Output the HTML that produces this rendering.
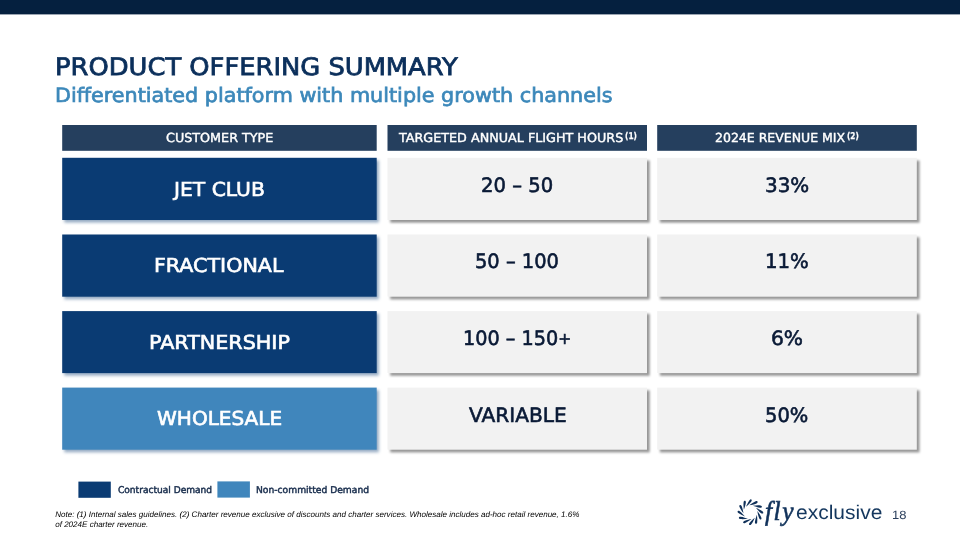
<!DOCTYPE html>
<html lang="en">
<head>
<meta charset="utf-8">
<title>Product Offering Summary</title>
<style>
html,body{margin:0;padding:0;}
body{width:960px;height:540px;position:relative;overflow:hidden;background:#fff;font-family:"DejaVu Sans","Liberation Sans",sans-serif;}
svg.shapes{position:absolute;left:0;top:0;width:960px;height:540px;}
.t{position:absolute;white-space:nowrap;line-height:1;transform-origin:0 0;text-rendering:geometricPrecision;}
.title{color:#0b2f5b;-webkit-text-stroke:0.8px #0b2f5b;}
.sub{color:#3c88ba;-webkit-text-stroke:0.7px #3c88ba;}
.hdr{color:#fff;-webkit-text-stroke:0.4px #fff;}
.sup{color:#fff;font-weight:bold;-webkit-text-stroke:0.25px #fff;}
.lab{color:#fff;-webkit-text-stroke:0.65px #fff;}
.val{color:#0a1a36;-webkit-text-stroke:0.6px #0a1a36;}
.leg{color:#172c4c;-webkit-text-stroke:0.45px #172c4c;}
.note{left:55.2px;top:510.4px;font-family:"Liberation Sans","DejaVu Sans",sans-serif;font-size:8.05px;line-height:10px;font-style:italic;color:#000;}
.fly{font-family:"Liberation Serif","DejaVu Serif",serif;font-style:italic;color:#10315a;-webkit-text-stroke:0.6px #10315a;}
.ex{font-family:"Liberation Sans","DejaVu Sans",sans-serif;color:#14375e;}
.pg{font-family:"Liberation Sans","DejaVu Sans",sans-serif;color:#2b3f5c;}
</style>
</head>
<body>
<svg class="shapes" viewBox="0 0 960 540" width="960" height="540" aria-hidden="true">
<defs>
<filter id="shB" x="-5%" y="-20%" width="110%" height="140%" color-interpolation-filters="sRGB"><feDropShadow dx="2.1" dy="2.5" stdDeviation="1.8" flood-color="#1c4a7e" flood-opacity="0.47"/></filter>
<filter id="shG" x="-5%" y="-20%" width="110%" height="140%" color-interpolation-filters="sRGB"><feDropShadow dx="2.7" dy="2.7" stdDeviation="1.15" flood-color="#000" flood-opacity="0.41"/></filter>
</defs>
<rect x="0" y="0" width="960" height="14.4" fill="#05203f"/>
<rect x="62.2" y="125.0" width="314.5" height="25.8" fill="#253f5e"/>
<rect x="387.5" y="125.0" width="259.5" height="25.8" fill="#253f5e"/>
<rect x="657.2" y="125.0" width="259.6" height="25.8" fill="#253f5e"/>
<rect x="62.2" y="157.8" width="314.5" height="62.2" fill="#0a3b73" filter="url(#shB)"/>
<rect x="387.5" y="157.8" width="259.5" height="62.2" fill="#f2f2f2" filter="url(#shG)"/>
<rect x="657.2" y="157.8" width="259.6" height="62.2" fill="#f2f2f2" filter="url(#shG)"/>
<rect x="62.2" y="234.5" width="314.5" height="62.2" fill="#0a3b73" filter="url(#shB)"/>
<rect x="387.5" y="234.5" width="259.5" height="62.2" fill="#f2f2f2" filter="url(#shG)"/>
<rect x="657.2" y="234.5" width="259.6" height="62.2" fill="#f2f2f2" filter="url(#shG)"/>
<rect x="62.2" y="311.1" width="314.5" height="62.0" fill="#0a3b73" filter="url(#shB)"/>
<rect x="387.5" y="311.1" width="259.5" height="62.0" fill="#f2f2f2" filter="url(#shG)"/>
<rect x="657.2" y="311.1" width="259.6" height="62.0" fill="#f2f2f2" filter="url(#shG)"/>
<rect x="62.2" y="387.6" width="314.5" height="62.1" fill="#4086bc" filter="url(#shB)"/>
<rect x="387.5" y="387.6" width="259.5" height="62.1" fill="#f2f2f2" filter="url(#shG)"/>
<rect x="657.2" y="387.6" width="259.6" height="62.1" fill="#f2f2f2" filter="url(#shG)"/>
<rect x="78.4" y="481.6" width="32.4" height="16.2" fill="#0a3b73"/>
<rect x="217.4" y="481.4" width="32.5" height="16.2" fill="#4086bc"/>
<g fill="#10315a"><path transform="rotate(0 750.4 512.2) translate(751.52 499.35) rotate(126.7)" d="M9.25 0 C7.21 0.40 4.62 1.15 1.85 1.15 C-0.37 1.15 -0.37 -1.15 1.85 -1.15 C4.62 -1.15 7.21 -0.40 9.25 0Z"/><path transform="rotate(30 750.4 512.2) translate(751.52 499.35) rotate(126.7)" d="M9.25 0 C7.21 0.40 4.62 1.15 1.85 1.15 C-0.37 1.15 -0.37 -1.15 1.85 -1.15 C4.62 -1.15 7.21 -0.40 9.25 0Z"/><path transform="rotate(60 750.4 512.2) translate(751.52 499.35) rotate(126.7)" d="M9.25 0 C7.21 0.40 4.62 1.15 1.85 1.15 C-0.37 1.15 -0.37 -1.15 1.85 -1.15 C4.62 -1.15 7.21 -0.40 9.25 0Z"/><path transform="rotate(90 750.4 512.2) translate(751.52 499.35) rotate(126.7)" d="M9.25 0 C7.21 0.40 4.62 1.15 1.85 1.15 C-0.37 1.15 -0.37 -1.15 1.85 -1.15 C4.62 -1.15 7.21 -0.40 9.25 0Z"/><path transform="rotate(120 750.4 512.2) translate(751.52 499.35) rotate(126.7)" d="M9.25 0 C7.21 0.40 4.62 1.15 1.85 1.15 C-0.37 1.15 -0.37 -1.15 1.85 -1.15 C4.62 -1.15 7.21 -0.40 9.25 0Z"/><path transform="rotate(150 750.4 512.2) translate(751.52 499.35) rotate(126.7)" d="M9.25 0 C7.21 0.40 4.62 1.15 1.85 1.15 C-0.37 1.15 -0.37 -1.15 1.85 -1.15 C4.62 -1.15 7.21 -0.40 9.25 0Z"/><path transform="rotate(180 750.4 512.2) translate(751.52 499.35) rotate(126.7)" d="M9.25 0 C7.21 0.40 4.62 1.15 1.85 1.15 C-0.37 1.15 -0.37 -1.15 1.85 -1.15 C4.62 -1.15 7.21 -0.40 9.25 0Z"/><path transform="rotate(210 750.4 512.2) translate(751.52 499.35) rotate(126.7)" d="M9.25 0 C7.21 0.40 4.62 1.15 1.85 1.15 C-0.37 1.15 -0.37 -1.15 1.85 -1.15 C4.62 -1.15 7.21 -0.40 9.25 0Z"/><path transform="rotate(240 750.4 512.2) translate(751.52 499.35) rotate(126.7)" d="M9.25 0 C7.21 0.40 4.62 1.15 1.85 1.15 C-0.37 1.15 -0.37 -1.15 1.85 -1.15 C4.62 -1.15 7.21 -0.40 9.25 0Z"/><path transform="rotate(270 750.4 512.2) translate(751.52 499.35) rotate(126.7)" d="M9.25 0 C7.21 0.40 4.62 1.15 1.85 1.15 C-0.37 1.15 -0.37 -1.15 1.85 -1.15 C4.62 -1.15 7.21 -0.40 9.25 0Z"/><path transform="rotate(300 750.4 512.2) translate(751.52 499.35) rotate(126.7)" d="M9.25 0 C7.21 0.40 4.62 1.15 1.85 1.15 C-0.37 1.15 -0.37 -1.15 1.85 -1.15 C4.62 -1.15 7.21 -0.40 9.25 0Z"/><path transform="rotate(330 750.4 512.2) translate(751.52 499.35) rotate(126.7)" d="M9.25 0 C7.21 0.40 4.62 1.15 1.85 1.15 C-0.37 1.15 -0.37 -1.15 1.85 -1.15 C4.62 -1.15 7.21 -0.40 9.25 0Z"/></g>
</svg>
<div class="t title" style="left:55.26px;top:54.90px;font-size:24.08px;transform:scaleX(1.0699)">PRODUCT OFFERING SUMMARY</div>
<div class="t sub" style="left:54.56px;top:85.63px;font-size:19.86px;transform:scaleX(1.0430)">Differentiated platform with multiple growth channels</div>
<div class="t hdr" style="left:165.99px;top:131.87px;font-size:12.38px;transform:scaleX(1.0291)">CUSTOMER TYPE</div>
<div class="t hdr" style="left:398.87px;top:131.87px;font-size:12.38px;transform:scaleX(1.0292)">TARGETED ANNUAL FLIGHT HOURS</div>
<div class="t sup" style="left:624.67px;top:131.97px;font-size:9.37px;transform:scaleX(0.7902)">(1)</div>
<div class="t hdr" style="left:715.23px;top:131.87px;font-size:12.38px;transform:scaleX(1.0099)">2024E REVENUE MIX</div>
<div class="t sup" style="left:847.28px;top:131.97px;font-size:9.37px;transform:scaleX(0.7829)">(2)</div>
<div class="t lab" style="left:174.20px;top:179.88px;font-size:19.27px;transform:scaleX(1.0532)">JET CLUB</div>
<div class="t val" style="left:481.14px;top:175.92px;font-size:19.77px;transform:scaleX(0.9915)">20 – 50</div>
<div class="t val" style="left:764.92px;top:175.92px;font-size:19.77px;transform:scaleX(1.0071)">33%</div>
<div class="t lab" style="left:154.29px;top:255.98px;font-size:19.27px;transform:scaleX(1.0703)">FRACTIONAL</div>
<div class="t val" style="left:475.15px;top:252.12px;font-size:19.77px;transform:scaleX(0.9836)">50 – 100</div>
<div class="t val" style="left:765.37px;top:252.12px;font-size:19.77px;transform:scaleX(0.9968)">11%</div>
<div class="t lab" style="left:148.69px;top:333.08px;font-size:19.27px;transform:scaleX(1.0732)">PARTNERSHIP</div>
<div class="t val" style="left:462.92px;top:329.12px;font-size:19.77px;transform:scaleX(0.9731)">100 – 150<span style="font-size:0.8em;position:relative;top:-0.07em">+</span></div>
<div class="t val" style="left:771.01px;top:329.12px;font-size:19.77px;transform:scaleX(1.0227)">6%</div>
<div class="t lab" style="left:156.85px;top:409.03px;font-size:19.27px;transform:scaleX(1.0403)">WHOLESALE</div>
<div class="t val" style="left:468.67px;top:405.67px;font-size:19.77px;transform:scaleX(1.0193)">VARIABLE</div>
<div class="t val" style="left:765.25px;top:405.67px;font-size:19.77px;transform:scaleX(0.9857)">50%</div>
<div class="t leg" style="left:118.38px;top:486.00px;font-size:9.33px;transform:scaleX(0.9711)">Contractual Demand</div>
<div class="t leg" style="left:256.15px;top:486.00px;font-size:9.33px;transform:scaleX(0.9824)">Non-committed Demand</div>
<div class="t note">Note: (1) Internal sales guidelines. (2) Charter revenue exclusive of discounts and charter services. Wholesale includes ad-hoc retail revenue, 1.6%<br>of 2024E charter revenue.</div>
<div class="t fly" style="left:765.40px;top:498.33px;font-size:27.14px;letter-spacing:1.6px;transform:scaleX(0.9391)">fly</div>
<div class="t ex" style="left:796.02px;top:504.40px;font-size:19.80px;transform:scaleX(1.0607)">exclusive</div>
<div class="t pg" style="left:892.40px;top:509.27px;font-size:12.00px;transform:scaleX(1.0792)">18</div>
</body>
</html>
